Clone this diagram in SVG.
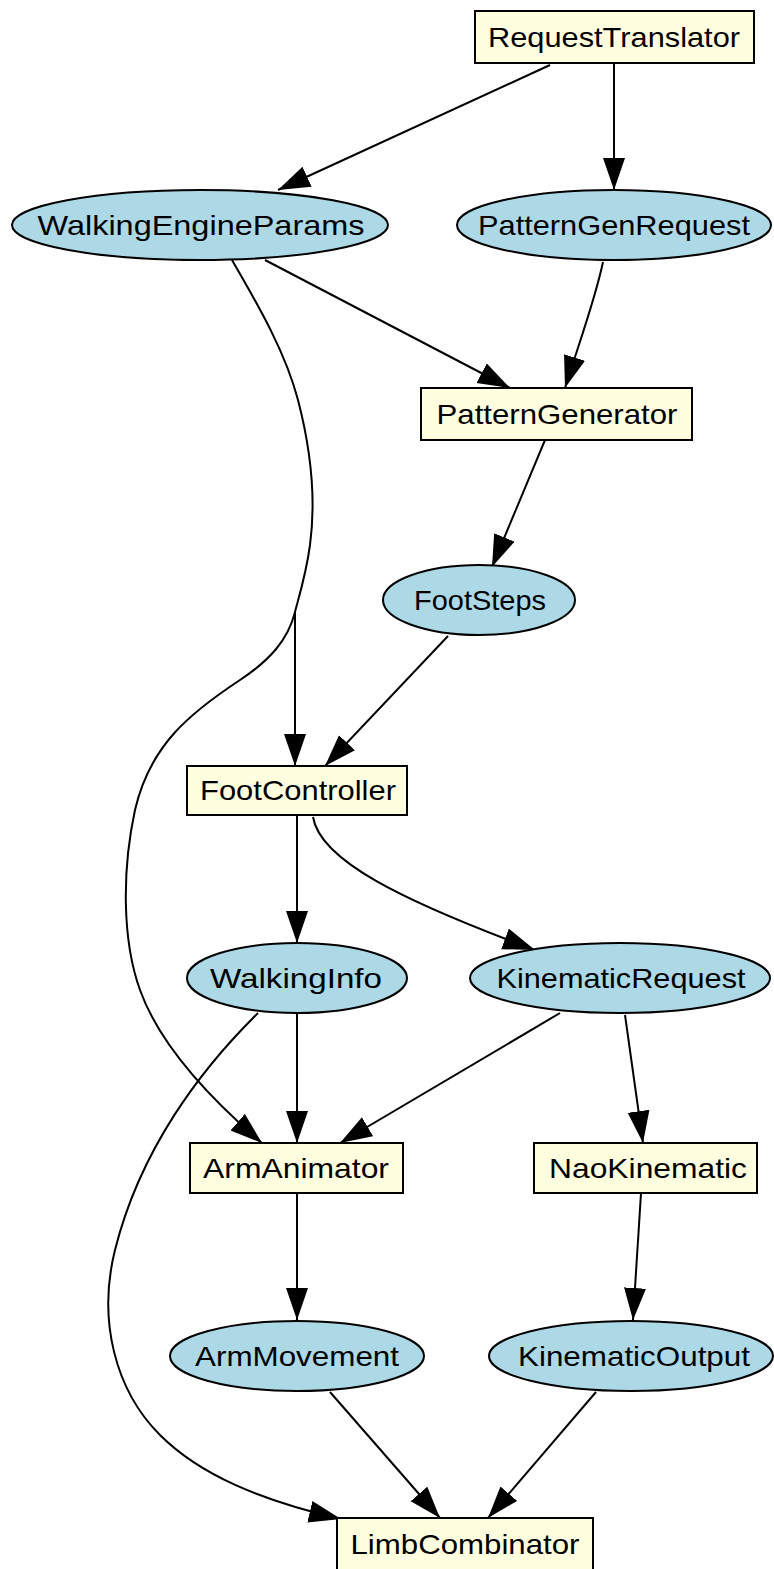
<svg xmlns="http://www.w3.org/2000/svg" width="774" height="1569" viewBox="0 0 774 1569">
<defs>
<style>
.box{fill:#ffffe0;stroke:#000;stroke-width:2}
.ell{fill:#add8e6;stroke:#000;stroke-width:2}
.lbl{font-family:"Liberation Sans",Arial,sans-serif;font-size:28px;fill:#000;text-anchor:middle}
.e{fill:none;stroke:#000;stroke-width:2;marker-end:url(#ah)}
</style>
<marker id="ah" markerUnits="userSpaceOnUse" markerWidth="34" markerHeight="24" refX="32" refY="11" orient="auto">
<path d="M0,0 L32,11 L0,22 z" fill="#000"/>
</marker>
</defs>
<rect width="774" height="1569" fill="#fff"/>
<g id="connectors">
<path class="e" d="M550,65 L278,190"/>
<path class="e" d="M614,63 L614,190"/>
<path class="e" d="M265,260 L510,388"/>
<path class="e" d="M603,262 C595,300 580,340 565,388"/>
<path class="e" d="M232,260 C255,300 285,350 298,400 C311,450 316,500 310,545 C306,575 298,600 295,612 L295,766"/>
<path class="e" d="M295,612 C288,640 270,660 240,680 C190,713 150,745 135,810 C122,870 122,940 140,990 C158,1040 200,1090 262,1143"/>
<path class="e" d="M545,440 L492,567"/>
<path class="e" d="M448,636 L325,766"/>
<path class="e" d="M297,815 L297,943"/>
<path class="e" d="M313,817 C320,860 400,900 535,950"/>
<path class="e" d="M297,1013 L297,1143"/>
<path class="e" d="M258,1013 C200,1070 140,1150 115,1250 C97.5,1320 115,1390 160,1435 C200,1475 260,1500 341,1519"/>
<path class="e" d="M560,1013 L340,1143"/>
<path class="e" d="M625,1015 L643,1143"/>
<path class="e" d="M297,1193 L297,1320"/>
<path class="e" d="M641,1193 L633,1320"/>
<path class="e" d="M330,1392 L440,1518"/>
<path class="e" d="M596,1392 L488,1518"/>
</g>
<g id="RequestTranslator"><rect class="box" x="475" y="11" width="279" height="52"/><text class="lbl" x="614" y="47" textLength="252" lengthAdjust="spacingAndGlyphs">RequestTranslator</text></g>
<g id="WalkingEngineParams"><ellipse class="ell" cx="200" cy="225" rx="188" ry="35"/><text class="lbl" x="201" y="235" textLength="327" lengthAdjust="spacingAndGlyphs">WalkingEngineParams</text></g>
<g id="PatternGenRequest"><ellipse class="ell" cx="614" cy="225" rx="157" ry="35"/><text class="lbl" x="614" y="235" textLength="272" lengthAdjust="spacingAndGlyphs">PatternGenRequest</text></g>
<g id="PatternGenerator"><rect class="box" x="421" y="388" width="271" height="52"/><text class="lbl" x="557" y="424" textLength="241" lengthAdjust="spacingAndGlyphs">PatternGenerator</text></g>
<g id="FootSteps"><ellipse class="ell" cx="479" cy="600" rx="96" ry="35"/><text class="lbl" x="480" y="610" textLength="132" lengthAdjust="spacingAndGlyphs">FootSteps</text></g>
<g id="FootController"><rect class="box" x="187" y="766" width="220" height="49"/><text class="lbl" x="298" y="800" textLength="196" lengthAdjust="spacingAndGlyphs">FootController</text></g>
<g id="WalkingInfo"><ellipse class="ell" cx="297" cy="978" rx="110" ry="35"/><text class="lbl" x="296" y="988" textLength="172" lengthAdjust="spacingAndGlyphs">WalkingInfo</text></g>
<g id="KinematicRequest"><ellipse class="ell" cx="620" cy="978" rx="150" ry="35"/><text class="lbl" x="621" y="988" textLength="249" lengthAdjust="spacingAndGlyphs">KinematicRequest</text></g>
<g id="ArmAnimator"><rect class="box" x="190" y="1143" width="213" height="50"/><text class="lbl" x="296" y="1178" textLength="186" lengthAdjust="spacingAndGlyphs">ArmAnimator</text></g>
<g id="NaoKinematic"><rect class="box" x="534" y="1143" width="223" height="50"/><text class="lbl" x="648" y="1178" textLength="198" lengthAdjust="spacingAndGlyphs">NaoKinematic</text></g>
<g id="ArmMovement"><ellipse class="ell" cx="297" cy="1356" rx="127" ry="35"/><text class="lbl" x="297" y="1366" textLength="204" lengthAdjust="spacingAndGlyphs">ArmMovement</text></g>
<g id="KinematicOutput"><ellipse class="ell" cx="631" cy="1356" rx="142" ry="35"/><text class="lbl" x="634" y="1366" textLength="232" lengthAdjust="spacingAndGlyphs">KinematicOutput</text></g>
<g id="LimbCombinator"><rect class="box" x="337" y="1518" width="256" height="52"/><text class="lbl" x="465" y="1554" textLength="229" lengthAdjust="spacingAndGlyphs">LimbCombinator</text></g>
</svg>
